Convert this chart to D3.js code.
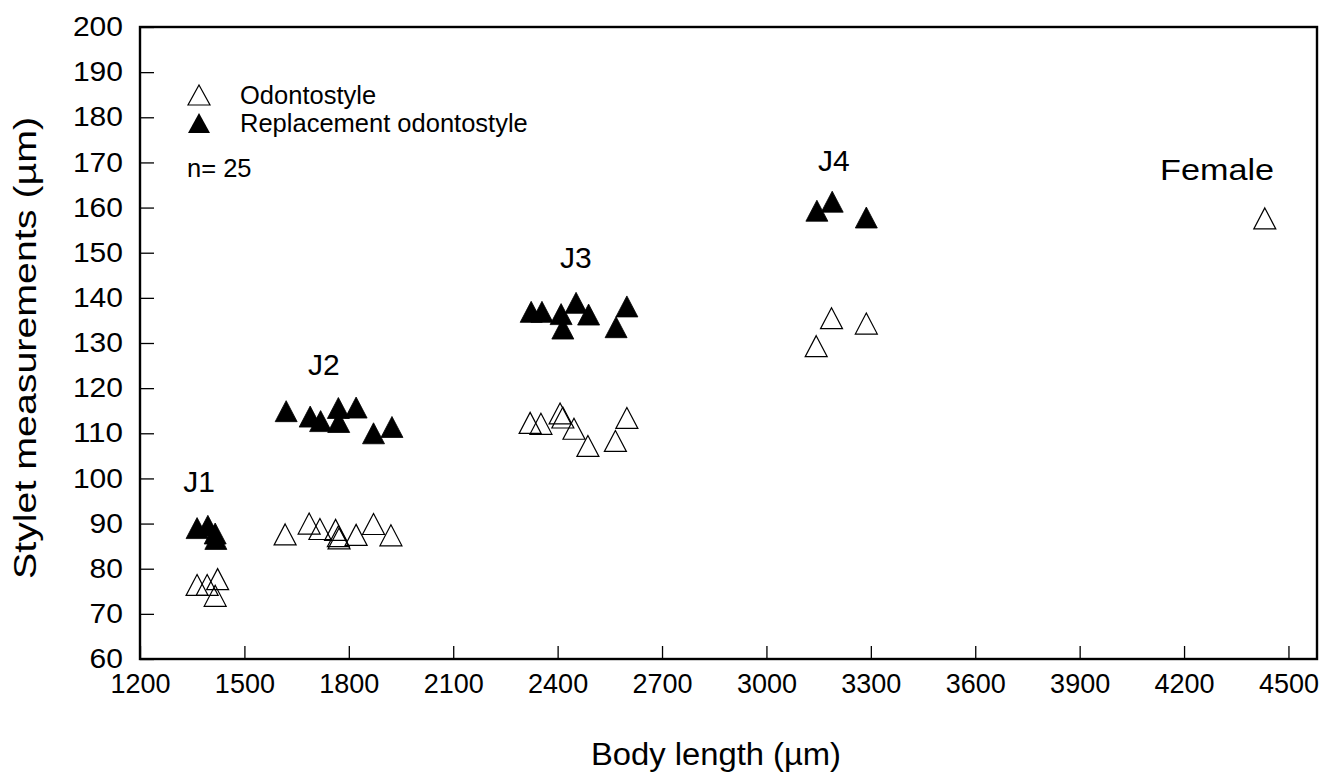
<!DOCTYPE html>
<html><head><meta charset="utf-8">
<script src="https://cdn.jsdelivr.net/npm/d3@7"></script>
<style>
body{margin:0;background:#fff}
svg{display:block}
text{font-family:"Liberation Sans",Arial,Helvetica,sans-serif;fill:#000}
</style>
</head><body>
<svg id="chart" width="1327" height="778"></svg>
<script>
// ---- data ----
const xTicks = [1200,1500,1800,2100,2400,2700,3000,3300,3600,3900,4200,4500];
const yTicks = [60,70,80,90,100,110,120,130,140,150,160,170,180,190,200];

// Odontostyle (open triangles)
const odontoX = [1364,1393,1423,1416, 1617,1686,1717,1762,1770,1772,1821,1871,1921, 2321,2352,2407,2415,2447,2487,2566,2599, 3143,3187,3287, 4432];
const odontoY = [76.4,76.4,77.7,74.0, 87.6,90.0,88.8,88.6,87.2,86.7,87.5,89.9,87.4, 112.3,112.1,114.4,113.5,111.0,107.2,108.3,113.4, 129.3,135.5,134.3, 157.6];

// Replacement odontostyle (filled triangles)
const replX = [1364,1395,1416,1418, 1620,1689,1719,1770,1771,1821,1871,1924, 2324,2355,2410,2415,2453,2489,2568,2599, 3145,3189,3287];
const replY = [89.0,89.5,87.8,86.6, 114.9,113.7,112.7,115.6,112.5,115.7,110.0,111.4, 136.9,136.9,136.4,133.2,138.9,136.3,133.5,138.1, 159.3,161.3,157.8];

// stage annotations (anchored in data units)
const stageNames = ["J1","J2","J3","J4","Female"];
const stageX = [1324,1683,2407,3148,4131];
const stageY = [97.0,122.9,146.6,168.1,166.1];

const legendNames = ["Odontostyle","Replacement odontostyle"];

// ---- layout ----
const svg = d3.select("#chart");
const L = 140, R = 1317, T = 27, B = 659;
const x = d3.scaleLinear().domain([1200, 4582]).range([L, R]);
const y = d3.scaleLinear().domain([60, 200]).range([B, T]);

const triPath = (w, h) => `M0,${-h/2}L${w/2},${h/2}L${-w/2},${h/2}Z`;
const FF = '"Liberation Sans",Arial,sans-serif';

// axes
const gx = svg.append("g").attr("transform", `translate(0,${B})`)
  .call(d3.axisBottom(x).tickValues(xTicks).tickSize(-13).tickPadding(15).tickFormat(d3.format("d")));
gx.select(".domain").remove();
gx.selectAll(".tick line").attr("stroke", "#000").attr("stroke-width", 1.3);
gx.selectAll(".tick text").attr("font-size", 27).style("font-family", FF);

const gy = svg.append("g").attr("transform", `translate(${L},0)`)
  .call(d3.axisLeft(y).tickValues(yTicks).tickSize(-14).tickPadding(17).tickFormat(d3.format("d")));
gy.select(".domain").remove();
gy.selectAll(".tick line").attr("stroke", "#000").attr("stroke-width", 1.3);
gy.selectAll(".tick text").attr("font-size", 27).style("font-family", FF)
  .attr("textLength", d => String(d).length * 16.7).attr("lengthAdjust", "spacingAndGlyphs");

// frame
svg.append("rect").attr("x", L).attr("y", T).attr("width", R - L).attr("height", B - T)
  .attr("fill", "none").attr("stroke", "#000").attr("stroke-width", 2.4);

// axis titles
svg.append("text").attr("x", 716).attr("y", 765).attr("text-anchor", "middle")
  .attr("font-size", 31).attr("textLength", 250).attr("lengthAdjust", "spacingAndGlyphs")
  .text("Body length (µm)");
svg.append("text").attr("transform", `translate(36,348) rotate(-90)`).attr("text-anchor", "middle")
  .attr("font-size", 31).attr("textLength", 462).attr("lengthAdjust", "spacingAndGlyphs")
  .text("Stylet measurements (µm)");

// points
const odonto = odontoX.map((v, i) => ({x: v, y: odontoY[i]}));
const repl = replX.map((v, i) => ({x: v, y: replY[i]}));

svg.append("g").selectAll("path").data(odonto).join("path")
  .attr("d", triPath(22, 21))
  .attr("transform", d => `translate(${x(d.x)},${y(d.y)})`)
  .attr("fill", "none").attr("stroke", "#000").attr("stroke-width", 1.2);

svg.append("g").selectAll("path").data(repl).join("path")
  .attr("d", triPath(22, 21))
  .attr("transform", d => `translate(${x(d.x)},${y(d.y)})`)
  .attr("fill", "#000").attr("stroke", "#000").attr("stroke-width", 0.8);

// stage labels
svg.append("g").selectAll("text").data(stageNames).join("text")
  .attr("x", (d, i) => x(stageX[i])).attr("y", (d, i) => y(stageY[i]))
  .attr("font-size", 30)
  .attr("textLength", d => d === "Female" ? 114 : null)
  .attr("lengthAdjust", "spacingAndGlyphs")
  .text(d => d);

// legend
const lg = svg.append("g");
lg.append("path").attr("d", triPath(22, 20)).attr("transform", "translate(199,95)")
  .attr("fill", "none").attr("stroke", "#000").attr("stroke-width", 1.2);
lg.append("path").attr("d", triPath(22, 20)).attr("transform", "translate(199,123)")
  .attr("fill", "#000");
lg.selectAll("text.lab").data(legendNames).join("text").attr("class", "lab")
  .attr("x", 240).attr("y", (d, i) => 104 + i * 28).attr("font-size", 25.5).text(d => d);
lg.append("text").attr("x", 187).attr("y", 177).attr("font-size", 25.5).text("n= 25");
</script>
</body></html>
